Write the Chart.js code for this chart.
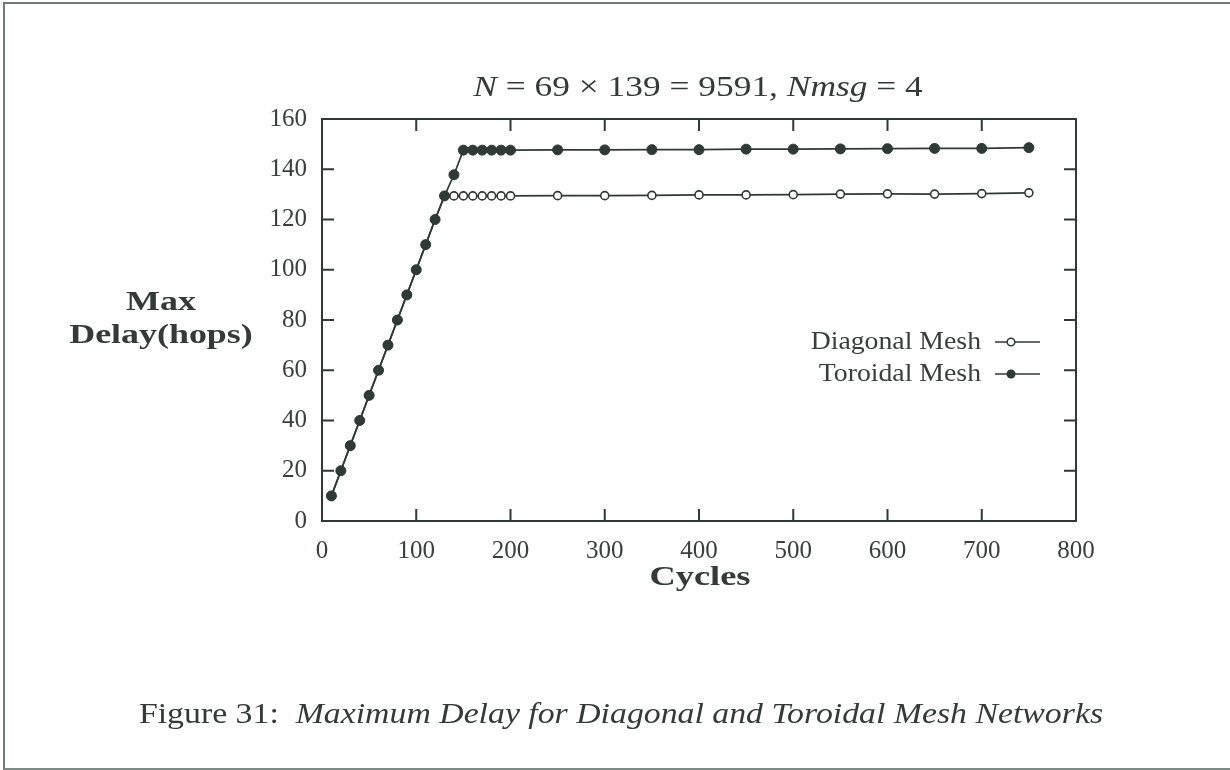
<!DOCTYPE html>
<html>
<head>
<meta charset="utf-8">
<script src="https://cdn.jsdelivr.net/npm/chart.js@4"></script>
<style>
  body { margin: 0; background: #fff; }
  #page { position: relative; width: 1230px; height: 770px; overflow: hidden; font-family: "Liberation Serif", serif; color: #333a38; }
  #frame { position: absolute; left: 3px; top: 2px; width: 1227px; height: 764px; border-left: 2px solid #6d7c79; border-top: 2px solid #6d7c79; border-bottom: 2px solid #7d8a86; }
  #chartBox { position: absolute; left: 0; top: 0; width: 1230px; height: 770px; }
  .txt { position: absolute; white-space: nowrap; line-height: 1; transform-origin: 50% 50%; }
  #title { left: 398px; width: 600px; top: 71px; text-align: center; font-size: 30px; transform: scaleX(1.18); }
  #ylab { left: 40px; width: 242px; top: 285px; text-align: center; font-size: 27px; font-weight: bold; line-height: 33px; transform: scaleX(1.33); }
  #xlab { left: 550px; width: 300px; top: 562px; text-align: center; font-size: 28px; font-weight: bold; transform: scaleX(1.3); }
  #caption { left: 0; width: 1242px; top: 699px; text-align: center; font-size: 29px; transform: scaleX(1.165); }
</style>
</head>
<body>
<div id="page">
  <div id="frame"></div>
  <div id="chartBox"><canvas id="myChart" width="1230" height="770"></canvas></div>
  <div class="txt" id="title"><i>N</i> = 69 × 139 = 9591, <i>Nmsg</i> = 4</div>
  <div class="txt" id="ylab">Max<br>Delay(hops)</div>
  <div class="txt" id="xlab">Cycles</div>
  <div class="txt" id="caption">Figure 31:&nbsp; <i>Maximum Delay for Diagonal and Toroidal Mesh Networks</i></div>
</div>
<script>
// values
const cyclesDiagonal = [10, 20, 30, 40, 50, 60, 70, 80, 90, 100, 110, 120, 130, 140, 150, 160, 170, 180, 190, 200, 250, 300, 350, 400, 450, 500, 550, 600, 650, 700, 750];
const delayDiagonal = [10, 20, 30, 40, 50, 60, 70, 80, 90, 100, 110, 120, 129.4, 129.4, 129.4, 129.4, 129.4, 129.4, 129.4, 129.4, 129.5, 129.5, 129.6, 129.8, 129.8, 129.9, 130.1, 130.2, 130.1, 130.3, 130.6];
const cyclesToroidal = [10, 20, 30, 40, 50, 60, 70, 80, 90, 100, 110, 120, 130, 140, 150, 160, 170, 180, 190, 200, 250, 300, 350, 400, 450, 500, 550, 600, 650, 700, 750];
const delayToroidal = [10, 20, 30, 40, 50, 60, 70, 80, 90, 100, 110, 120, 129.4, 137.8, 147.6, 147.6, 147.6, 147.6, 147.6, 147.6, 147.7, 147.7, 147.8, 147.8, 148.0, 148.0, 148.1, 148.2, 148.3, 148.3, 148.6];
const xTicks = [0, 100, 200, 300, 400, 500, 600, 700, 800];
const yTicks = [0, 20, 40, 60, 80, 100, 120, 140, 160];

const lineColor = "#2f3935";
const textColor = "#3a3f3d";

function toPoints(xs, ys) {
  return xs.map((x, i) => ({ x: x, y: ys[i] }));
}

// frame, inward ticks on all four sides, legend
const framePlugin = {
  id: "framePlugin",
  afterDraw(chart) {
    const ctx = chart.ctx;
    const a = chart.chartArea;
    const xs = chart.scales.x;
    const ys = chart.scales.y;
    ctx.save();
    ctx.strokeStyle = lineColor;
    ctx.lineWidth = 2;
    ctx.strokeRect(a.left, a.top, a.right - a.left, a.bottom - a.top);
    ctx.beginPath();
    xTicks.slice(1, -1).forEach((v) => {
      const px = xs.getPixelForValue(v);
      ctx.moveTo(px, a.bottom);
      ctx.lineTo(px, a.bottom - 12);
      ctx.moveTo(px, a.top);
      ctx.lineTo(px, a.top + 12);
    });
    yTicks.slice(1, -1).forEach((v) => {
      const py = ys.getPixelForValue(v);
      ctx.moveTo(a.left, py);
      ctx.lineTo(a.left + 12, py);
      ctx.moveTo(a.right, py);
      ctx.lineTo(a.right - 12, py);
    });
    ctx.stroke();

    // legend, text on the left and sample on the right
    const entries = [
      { label: "Diagonal Mesh", y: 342, filled: false },
      { label: "Toroidal Mesh", y: 374, filled: true },
    ];
    entries.forEach((e) => {
      ctx.save();
      ctx.translate(981, e.y);
      ctx.scale(1.11, 1);
      ctx.font = "25px 'Liberation Serif'";
      ctx.fillStyle = textColor;
      ctx.textAlign = "right";
      ctx.textBaseline = "middle";
      ctx.fillText(e.label, 0, 0);
      ctx.restore();
      ctx.lineWidth = 1.5;
      ctx.strokeStyle = lineColor;
      ctx.beginPath();
      ctx.moveTo(995, e.y);
      ctx.lineTo(1040, e.y);
      ctx.stroke();
      ctx.beginPath();
      ctx.arc(1011, e.y, e.filled ? 4.5 : 3.8, 0, Math.PI * 2);
      if (e.filled) {
        ctx.fillStyle = lineColor;
        ctx.fill();
      } else {
        ctx.fillStyle = "#fff";
        ctx.fill();
        ctx.stroke();
      }
    });
    ctx.restore();
  },
};

const ctx = document.getElementById("myChart").getContext("2d");
const myChart = new Chart(ctx, {
  type: "line",
  data: {
    datasets: [
      {
        label: "Toroidal Mesh",
        data: toPoints(cyclesToroidal, delayToroidal),
        borderColor: lineColor,
        borderWidth: 1.7,
        pointRadius: 5,
        pointBackgroundColor: lineColor,
        pointBorderColor: lineColor,
        pointBorderWidth: 1,
        order: 1,
      },
      {
        label: "Diagonal Mesh",
        data: toPoints(cyclesDiagonal, delayDiagonal),
        borderColor: lineColor,
        borderWidth: 1.7,
        pointRadius: 4,
        pointBackgroundColor: "#ffffff",
        pointBorderColor: lineColor,
        pointBorderWidth: 1.6,
        order: 2,
      },
    ],
  },
  options: {
    responsive: false,
    animation: false,
    layout: { padding: { left: 250, right: 154, top: 119, bottom: 209 } },
    plugins: {
      legend: { display: false },
      tooltip: { enabled: false },
    },
    scales: {
      x: {
        type: "linear",
        min: 0,
        max: 800,
        afterFit: (scale) => { scale.height = 40; },
        afterBuildTicks: (scale) => { scale.ticks = xTicks.map((v) => ({ value: v })); },
        grid: { display: false, drawTicks: false },
        border: { display: false },
        ticks: { padding: 15, color: textColor, font: { family: "Liberation Serif", size: 25 } },
      },
      y: {
        min: 0,
        max: 160,
        afterFit: (scale) => { scale.width = 72; },
        afterBuildTicks: (scale) => { scale.ticks = yTicks.map((v) => ({ value: v })); },
        grid: { display: false, drawTicks: false },
        border: { display: false },
        ticks: { padding: 15, color: textColor, font: { family: "Liberation Serif", size: 25 } },
      },
    },
  },
  plugins: [framePlugin],
});
</script>
</body>
</html>
